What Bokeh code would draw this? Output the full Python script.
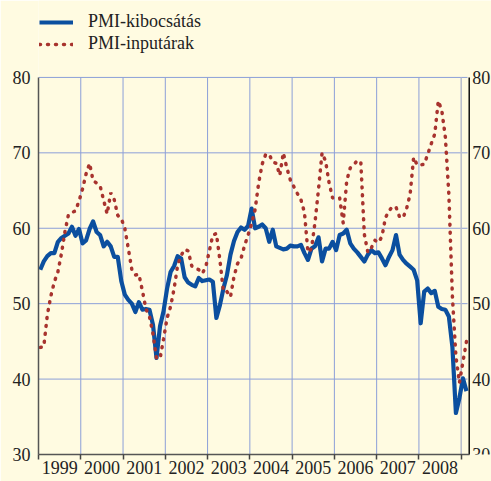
from bokeh.plotting import figure
from bokeh.models import FixedTicker, Range1d, Legend, LegendItem
from bokeh.core.properties import value
from bokeh.embed import file_html
from bokeh.resources import INLINE

# ---- data (monthly, Jan 1999 - Feb 2009) ----
start_year = 1999
output_pmi = [
    54.5, 55.6, 56.3, 56.7, 56.7, 58.2, 58.7, 59.0, 59.3, 60.2, 59.0, 59.9,   # 1999
    58.0, 58.4, 59.9, 60.9, 59.5, 59.1, 57.6, 58.2, 57.6, 56.2, 56.2, 53.0,   # 2000
    51.2, 50.5, 50.0, 48.9, 50.2, 49.2, 49.3, 49.2, 47.2, 42.8, 47.0, 49.0,   # 2001
    52.0, 54.2, 55.0, 56.3, 56.0, 53.5, 52.8, 52.5, 52.3, 53.4, 53.0, 53.1,   # 2002
    53.2, 52.9, 48.1, 49.8, 52.0, 53.8, 56.5, 58.3, 59.5, 60.1, 59.8, 60.3,   # 2003
    62.6, 60.0, 60.2, 60.5, 60.0, 58.2, 59.8, 57.6, 57.4, 57.2, 57.3, 57.7,   # 2004
    57.6, 57.6, 57.8, 56.7, 55.8, 57.3, 57.6, 58.8, 55.6, 57.3, 57.3, 58.2,   # 2005
    57.1, 59.1, 59.3, 59.8, 58.0, 57.3, 56.8, 56.2, 55.6, 56.5, 57.1, 56.7,   # 2006
    56.8, 56.0, 55.1, 56.2, 57.1, 59.1, 56.5, 55.8, 55.3, 54.9, 54.5, 53.1,   # 2007
    47.4, 51.6, 52.0, 51.4, 51.7, 49.6, 49.3, 49.2, 48.3, 44.3, 35.5, 37.5,   # 2008
    40.1, 38.4,                                                               # 2009
]
input_pmi = [
    44.2, 44.3, 48.5, 51.0, 52.9, 54.2, 56.6, 59.5, 61.8, 62.1, 62.3, 63.6,   # 1999
    65.2, 67.2, 68.6, 66.3, 66.0, 65.6, 63.7, 61.9, 64.7, 63.8, 61.7, 61.3,   # 2000
    60.0, 57.3, 54.5, 53.8, 53.9, 51.7, 49.3, 48.3, 46.0, 42.8, 42.7, 45.3,   # 2001
    48.1, 49.6, 52.0, 55.1, 56.4, 57.2, 57.0, 55.0, 54.7, 54.5, 54.0, 54.9,   # 2002
    57.0, 59.1, 59.3, 55.8, 51.6, 51.6, 50.9, 53.6, 55.3, 56.0, 57.7, 59.1,   # 2003
    60.6, 62.5, 66.0, 68.5, 69.8, 69.8, 68.8, 68.6, 67.0, 70.0, 68.0, 66.4,   # 2004
    65.5, 64.6, 63.8, 62.1, 56.8, 57.3, 60.8, 65.2, 70.0, 68.9, 66.0, 64.0,   # 2005
    64.0, 64.0, 60.7, 66.3, 68.0, 68.4, 69.0, 68.8, 59.2, 56.8, 57.4, 58.4,   # 2006
    58.1, 58.9, 61.4, 62.3, 62.9, 62.8, 61.5, 61.4, 62.6, 64.5, 69.4, 68.4,   # 2007
    68.4, 68.5, 69.8, 71.2, 72.5, 76.9, 75.6, 72.1, 64.5, 51.0, 43.0, 39.5,   # 2008
    42.3, 45.0,                                                               # 2009
]
year_labels = ["1999", "2000", "2001", "2002", "2003", "2004", "2005", "2006", "2007", "2008"]
y_ticks = [30, 40, 50, 60, 70, 80]
series_names = ["PMI-kibocsátás", "PMI-inputárak"]

# ---- derived positions (decimal year, mid-month) ----
t = [start_year + (i + 0.5) / 12 for i in range(len(output_pmi))]
year_starts = [int(y) for y in year_labels] + [int(year_labels[-1]) + 1]
label_pos = [int(y) + 0.5 for y in year_labels]

X0, X_AXIS_R, X_END = 1999.0, 2009.19, 2009.717   # right value axis sits inside the canvas
Y0, Y_TOP, Y_END = 30, 80, 90.2                   # space above 80 holds the legend

BG = "#fffbe1"
GRID = "#8c9fd8"
FONT = "Liberation Serif"
FS = "18px"

p = figure(width=491, height=481, output_backend="svg", toolbar_location=None,
           x_range=Range1d(X0, X_END), y_range=Range1d(Y0, Y_END),
           background_fill_color=BG, border_fill_color=BG, outline_line_color=None,
           min_border_left=38, min_border_right=0, min_border_top=0,
           min_border_bottom=27)
p.xgrid.visible = False
p.ygrid.visible = False

# bottom axis: year labels centred, ticks at year boundaries
xa = p.xaxis[0]
xa.bounds = (X0, X_AXIS_R)
xa.ticker = FixedTicker(ticks=label_pos, minor_ticks=year_starts)
xa.major_label_overrides = {pos: lab for pos, lab in zip(label_pos, year_labels)}
xa.major_tick_out = 0
xa.major_tick_in = 0
xa.minor_tick_out = 5
xa.minor_tick_in = 0
xa.minor_tick_line_color = "#444444"
xa.minor_tick_line_width = 1.5
xa.axis_line_color = "#555555"
xa.axis_line_width = 1.5
xa.major_label_standoff = 1
xa.major_label_text_font = FONT
xa.major_label_text_font_size = FS
xa.major_label_text_color = "#222222"

# left axis
ya = p.yaxis[0]
ya.bounds = (Y0, Y_TOP)
ya.ticker = FixedTicker(ticks=y_ticks)
ya.major_tick_out = 0
ya.major_tick_in = 0
ya.minor_tick_line_color = None
ya.axis_line_color = "#555555"
ya.axis_line_width = 1.5
ya.major_label_standoff = 8
ya.major_label_text_font = FONT
ya.major_label_text_font_size = FS
ya.major_label_text_color = "#222222"

# grid lines (limited to the 30-80 box)
inner_years = year_starts[1:-1]
p.segment(x0=inner_years, y0=[Y0] * len(inner_years), x1=inner_years,
          y1=[Y_TOP] * len(inner_years), line_color=GRID, line_width=1)
grid_vals = y_ticks[1:]
p.segment(x0=[X0] * len(grid_vals), y0=grid_vals, x1=[X_AXIS_R - 0.04] * len(grid_vals),
          y1=grid_vals, line_color=GRID, line_width=1)
p.segment(x0=[year_starts[-1]], y0=[Y0], x1=[year_starts[-1]], y1=[Y_TOP],
          line_color="#b7bccb", line_width=1.5)

# right value axis (line + labels)
p.segment(x0=[X_AXIS_R], y0=[Y0 - 0.1], x1=[X_AXIS_R], y1=[Y_TOP],
          line_color="#111111", line_width=1.5)
p.text(x=[X_AXIS_R] * len(y_ticks), y=y_ticks, text=[str(v) for v in y_ticks],
       x_offset=3, text_align="left", text_baseline="middle",
       text_font=value(FONT), text_font_size=value(FS), text_color="#222222")

# series
r_out = p.line(t, output_pmi, line_color="#0b4f9f", line_width=4.2, line_join="round")
r_in = p.line(t, input_pmi, line_color="#a8332e", line_width=3.5,
              line_dash="1 7", line_cap="round")

legend = Legend(items=[LegendItem(label=series_names[0], renderers=[r_out]),
                       LegendItem(label=series_names[1], renderers=[r_in])],
                location=(1, 400), orientation="vertical",
                glyph_width=34, glyph_height=20, label_height=20,
                label_standoff=15, spacing=1, padding=2, margin=0,
                border_line_color=None, background_fill_alpha=0,
                label_text_font=FONT, label_text_font_size=FS,
                label_text_color="#222222")
p.add_layout(legend, "center")

open("out.html", "w").write(file_html(p, INLINE))
